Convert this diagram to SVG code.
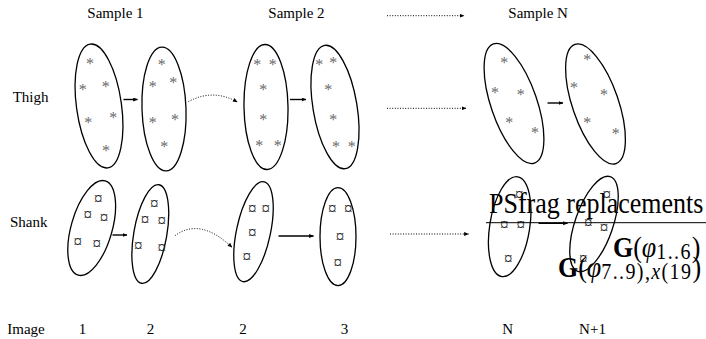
<svg xmlns="http://www.w3.org/2000/svg" width="706" height="339" viewBox="0 0 706 339">
  <style>
    .lbl { font-family: "Liberation Serif", "Times New Roman", serif; font-size: 15px; fill: #000; }
    .num { font-family: "Liberation Serif", "Times New Roman", serif; font-size: 15px; fill: #000; text-anchor: middle; }
    .set { fill: none; stroke: #000; stroke-width: 1.3; }
    .ast { font-family: "Liberation Serif", "Times New Roman", serif; font-size: 16px; fill: #6a6a6a; text-anchor: middle; }
    .cur { font-family: "Liberation Serif", "Times New Roman", serif; font-size: 17px; fill: #222; text-anchor: middle; }
    .solid { fill: none; stroke: #000; stroke-width: 1.4; }
    .dot { fill: none; stroke: #000; stroke-width: 1; stroke-dasharray: 1 1.6; }
    .frag { font-family: "Liberation Serif", "Times New Roman", serif; font-size: 26px; fill: #000; }
    .sub { font-size: 20px; letter-spacing: 1.4px; }
  </style>
  <defs>
    <marker id="head" viewBox="0 0 6 5" refX="5.5" refY="2.5" markerWidth="5" markerHeight="4" markerUnits="userSpaceOnUse" orient="auto">
      <path d="M0,0 L6,2.5 L0,5 z" fill="#000"/>
    </marker>
  </defs>

  <!-- column and row headings -->
  <g id="labels">
    <text class="lbl" x="87.3" y="18.3">Sample 1</text>
    <text class="lbl" x="268.3" y="18.3">Sample 2</text>
    <text class="lbl" x="508.3" y="18.3">Sample N</text>
    <text class="lbl" x="12.7" y="101.7">Thigh</text>
    <text class="lbl" x="10" y="226.7">Shank</text>
    <text class="lbl" x="7.3" y="334">Image</text>
    <text class="num" x="82.5" y="334">1</text>
    <text class="num" x="150.5" y="334">2</text>
    <text class="num" x="243" y="334">2</text>
    <text class="num" x="344.5" y="334">3</text>
    <text class="num" x="507.7" y="334">N</text>
    <text class="num" x="592.5" y="334">N+1</text>
  </g>

  <!-- thigh point sets (asterisks) -->
  <g id="thigh-1">
    <ellipse class="set" cx="99" cy="106" rx="22.5" ry="62.5" transform="rotate(-8 99 106)"/>
    <text class="ast" x="90" y="69">*</text>
    <text class="ast" x="82.7" y="94.5">*</text>
    <text class="ast" x="105.7" y="91.5">*</text>
    <text class="ast" x="88.3" y="127.8">*</text>
    <text class="ast" x="113.3" y="122.5">*</text>
    <text class="ast" x="106" y="155.8">*</text>
  </g>
  <g id="thigh-2">
    <ellipse class="set" cx="164" cy="109" rx="22" ry="62" transform="rotate(-2 164 109)"/>
    <text class="ast" x="161.7" y="69.8">*</text>
    <text class="ast" x="152.7" y="91.5">*</text>
    <text class="ast" x="173.3" y="87.5">*</text>
    <text class="ast" x="152.7" y="128.2">*</text>
    <text class="ast" x="175" y="125.2">*</text>
    <text class="ast" x="164.3" y="151.5">*</text>
  </g>
  <g id="thigh-3">
    <ellipse class="set" cx="266" cy="107" rx="22" ry="62.5" transform="rotate(-1 266 107)"/>
    <text class="ast" x="257.3" y="70.2">*</text>
    <text class="ast" x="272.7" y="70.2">*</text>
    <text class="ast" x="263.3" y="94.8">*</text>
    <text class="ast" x="263.3" y="125.2">*</text>
    <text class="ast" x="259.3" y="150.8">*</text>
    <text class="ast" x="277.7" y="150.8">*</text>
  </g>
  <g id="thigh-4">
    <ellipse class="set" cx="335" cy="107" rx="22" ry="62.5" transform="rotate(-9.5 335 107)"/>
    <text class="ast" x="319.3" y="70.2">*</text>
    <text class="ast" x="333.3" y="67.5">*</text>
    <text class="ast" x="328.3" y="94.8">*</text>
    <text class="ast" x="333.3" y="125.2">*</text>
    <text class="ast" x="336" y="151.8">*</text>
    <text class="ast" x="351.7" y="151.8">*</text>
  </g>
  <g id="thigh-n">
    <ellipse class="set" cx="514" cy="103.5" rx="23" ry="63" transform="rotate(-19 514 103.5)"/>
    <text class="ast" x="504.3" y="68.2">*</text>
    <text class="ast" x="495" y="97.5">*</text>
    <text class="ast" x="520.7" y="100.2">*</text>
    <text class="ast" x="509.3" y="127.5">*</text>
    <text class="ast" x="535" y="137.5">*</text>
  </g>
  <g id="thigh-n1">
    <ellipse class="set" cx="595.5" cy="104" rx="23" ry="63" transform="rotate(-19 595.5 104)"/>
    <text class="ast" x="587.3" y="64.8">*</text>
    <text class="ast" x="574" y="93.2">*</text>
    <text class="ast" x="604" y="100.2">*</text>
    <text class="ast" x="587.3" y="127.5">*</text>
    <text class="ast" x="615.7" y="139.2">*</text>
  </g>

  <!-- shank point sets (currency marks) -->
  <g id="shank-1">
    <ellipse class="set" cx="91.7" cy="228" rx="20.5" ry="49" transform="rotate(16 91.7 228)"/>
    <text class="cur" x="98.3" y="203.5">¤</text>
    <text class="cur" x="87.7" y="220.1">¤</text>
    <text class="cur" x="104" y="223.1">¤</text>
    <text class="cur" x="77.7" y="246.5">¤</text>
    <text class="cur" x="96.7" y="248.5">¤</text>
  </g>
  <g id="shank-2">
    <ellipse class="set" cx="150.3" cy="234" rx="16.5" ry="50" transform="rotate(10 150.3 234)"/>
    <text class="cur" x="154.3" y="209.1">¤</text>
    <text class="cur" x="145" y="225.1">¤</text>
    <text class="cur" x="161.7" y="225.8">¤</text>
    <text class="cur" x="138.3" y="250.8">¤</text>
    <text class="cur" x="161.7" y="252.5">¤</text>
  </g>
  <g id="shank-3">
    <ellipse class="set" cx="253.5" cy="231.7" rx="17" ry="51" transform="rotate(12 253.5 231.7)"/>
    <text class="cur" x="252.3" y="214.1">¤</text>
    <text class="cur" x="265.7" y="214.1">¤</text>
    <text class="cur" x="252.3" y="237.5">¤</text>
    <text class="cur" x="246.7" y="261.5">¤</text>
  </g>
  <g id="shank-4">
    <ellipse class="set" cx="338" cy="236.7" rx="18" ry="49"/>
    <text class="cur" x="332.3" y="214.1">¤</text>
    <text class="cur" x="348.3" y="214.1">¤</text>
    <text class="cur" x="340" y="241.8">¤</text>
    <text class="cur" x="337.7" y="268.1">¤</text>
  </g>
  <g id="shank-n">
    <ellipse class="set" cx="509.7" cy="226.7" rx="20" ry="50.5" transform="rotate(9 509.7 226.7)"/>
    <text class="cur" x="519.3" y="199.8">¤</text>
    <text class="cur" x="504.3" y="230.1">¤</text>
    <text class="cur" x="520.7" y="230.1">¤</text>
    <text class="cur" x="508.3" y="264.1">¤</text>
  </g>
  <g id="shank-n1">
    <ellipse class="set" cx="594" cy="224" rx="19" ry="50" transform="rotate(19 594 224)"/>
    <text class="cur" x="606.7" y="199.8">¤</text>
    <text class="cur" x="588.3" y="227.5">¤</text>
    <text class="cur" x="604" y="232.5">¤</text>
    <text class="cur" x="583.3" y="264.1">¤</text>
  </g>

  <!-- transitions between point sets -->
  <g id="connectors">
    <line class="solid" x1="123.5" y1="99.5" x2="137.5" y2="99.5" marker-end="url(#head)"/>
    <line class="solid" x1="290" y1="99.5" x2="306" y2="99.5" marker-end="url(#head)"/>
    <line class="solid" x1="547.5" y1="103" x2="563" y2="103" marker-end="url(#head)"/>
    <line class="solid" x1="112.5" y1="235" x2="127" y2="235" marker-end="url(#head)"/>
    <line class="solid" x1="278.5" y1="236" x2="313.5" y2="236" marker-end="url(#head)"/>
    <line class="solid" x1="538.5" y1="223.3" x2="567.5" y2="223.3" marker-end="url(#head)"/>
    <path class="dot" d="M188.3,101.7 Q213,88.3 237.3,102" marker-end="url(#head)"/>
    <path class="dot" d="M175,235.7 Q200,217 232,247.3" marker-end="url(#head)"/>
    <line class="dot" x1="387" y1="15.7" x2="464" y2="15.7" marker-end="url(#head)"/>
    <line class="dot" x1="387" y1="108.3" x2="466" y2="108.3" marker-end="url(#head)"/>
    <line class="dot" x1="390" y1="234" x2="468.5" y2="234" marker-end="url(#head)"/>
  </g>

  <!-- overprinted replacement legend, set slightly tall -->
  <g id="replacements">
    <g transform="translate(489 213.3) scale(1 1.16)">
      <text class="frag" x="0" y="0">PSfrag replacements</text>
    </g>
    <line x1="486" y1="222.7" x2="706" y2="222.7" stroke="#000" stroke-width="1"/>
    <g transform="translate(613 256.5) scale(1 1.16)">
      <text class="frag" x="0" y="0"><tspan font-weight="bold">G</tspan>(<tspan font-style="italic">φ</tspan><tspan class="sub" dy="2">1..6</tspan><tspan dy="-2">)</tspan></text>
    </g>
    <g transform="translate(558 276.7) scale(1 1.16)">
      <text class="frag" x="0" y="0"><tspan font-weight="bold">G</tspan>(<tspan font-style="italic">φ</tspan><tspan class="sub" dy="2">7..9),<tspan font-style="italic">x</tspan>(19</tspan><tspan dy="-2">)</tspan></text>
    </g>
  </g>
</svg>
